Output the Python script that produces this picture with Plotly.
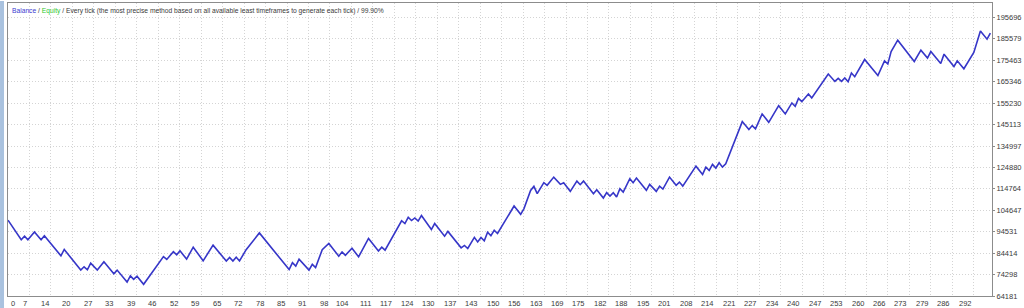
import plotly.graph_objects as go

# ---- data ----
trade_no = [
    0, 4, 5, 6, 8, 10, 11, 16, 17, 22,
    23, 24, 25, 27, 29, 32, 33, 36, 37, 38,
    39, 41, 47, 48, 50, 51, 52, 54, 56, 59,
    62, 66, 67, 68, 69, 70, 72, 76, 85, 86,
    87, 88, 91, 92, 93, 95, 97, 100, 101, 102,
    104, 106, 109, 112, 113, 114, 119, 120, 121, 122,
    123, 124, 125, 128, 129, 132, 133, 137, 138, 139,
    141, 142, 143, 144, 145, 146, 147, 148, 153, 155,
    156, 158, 159, 160, 162, 163, 165, 167, 168, 170,
    172, 173, 174, 177, 178, 180, 181, 182, 183, 184,
    185, 186, 188, 189, 190, 193, 194, 196, 197, 198,
    200, 202, 203, 204, 208, 210, 211, 212, 213, 214,
    215, 216, 217, 222, 224, 225, 226, 228, 230, 233,
    235, 237, 238, 239, 240, 242, 243, 248, 250, 251,
    252, 253, 254, 255, 256, 259, 263, 265, 266, 267,
    269, 274, 276, 278, 279, 282, 283, 286, 287, 289,
    292, 294, 296, 297,
]
balance = [
    100000, 90760, 92410, 90760, 94430, 90760, 92650, 83140, 86150, 76410,
    77970, 76560, 79710, 76410, 80320, 74670, 76410, 70770, 73680, 72040,
    73500, 69690, 82770, 81450, 85120, 83610, 85500, 81590, 87240, 80790,
    88180, 80650, 82390, 80650, 82530, 80740, 86060, 93970, 76650, 79940,
    78300, 81590, 76410, 79140, 77590, 86060, 88980, 83000, 85020, 83380,
    86770, 82670, 91330, 85450, 87240, 85820, 99700, 98390, 101350, 99800,
    101020, 99560, 102200, 95560, 98390, 92410, 94670, 86910, 88040, 86620,
    91850, 89730, 91800, 90200, 94290, 92650, 95230, 93680, 106670, 102760,
    105440, 114050, 115940, 112500, 117680, 116410, 120310, 116880, 117680, 113580,
    118430, 116740, 118430, 112500, 114380, 110430, 112970, 111370, 112970, 110900,
    114850, 113250, 119560, 117680, 119840, 114050, 116880, 113580, 116030, 114670,
    120310, 116410, 117960, 116080, 125490, 121580, 125020, 123460, 126290, 124550,
    127090, 125020, 126620, 146520, 142750, 144640, 143080, 150140, 146190, 154050,
    150140, 155320, 153720, 157480, 155930, 159550, 157670, 168960, 165480, 166890,
    165480, 167080, 165340, 169430, 167690, 175830, 168300, 175220, 173670, 179600,
    184960, 174890, 180250, 176490, 179600, 173950, 178370, 172540, 175220, 171460,
    179130, 189330, 185430, 188250,
]
x_tick_labels = [0, 7, 14, 20, 27, 33, 39, 46, 52, 59, 65, 72, 78, 85, 91, 98,
                 104, 111, 117, 124, 130, 137, 143, 150, 156, 163, 169, 175,
                 182, 188, 195, 201, 208, 214, 221, 227, 234, 240, 247, 253,
                 260, 266, 273, 279, 286, 292]
y_tick_values = [64181, 74298, 84414, 94531, 104647, 114764, 124880, 134997,
                 145113, 155230, 165346, 175463, 185579, 195696]
header_balance = "Balance"
header_equity = "Equity"
header_rest = ("Every tick (the most precise method based on all available "
               "least timeframes to generate each tick) / 99.90%")

# ---- styling ----
LINE_COLOR = "#3636c8"
GRID_COLOR = "#d4d4d4"
FRAME_COLOR = "#8c8c8c"
TEXT_COLOR = "#3a3a3a"
FONT = "Liberation Sans, Arial, sans-serif"
FS = 7.5

step = x_tick_labels[-1] / (len(x_tick_labels) - 1)
x_tick_pos = [i * step for i in range(len(x_tick_labels))]
x_max = 297.5
y_min, y_max = 64181, 202508

fig = go.Figure()
fig.add_trace(go.Scatter(
    x=trade_no, y=balance, mode="lines",
    line=dict(color=LINE_COLOR, width=1.6),
    hoverinfo="skip", showlegend=False,
))

annotations = []
for pos, lab in zip(x_tick_pos, x_tick_labels):
    annotations.append(dict(
        x=pos, y=0, xref="x", yref="paper", text=str(lab),
        showarrow=False, xanchor="left" if pos == 0 else "right",
        yanchor="top", yshift=-1, xshift=1 if pos == 0 else 0,
        font=dict(family=FONT, size=FS, color=TEXT_COLOR),
    ))
annotations.append(dict(
    x=0, y=1, xref="paper", yref="paper", xanchor="left", yanchor="top",
    xshift=2, yshift=-2, showarrow=False,
    text=(f"<span style='color:#3a3ad0'>{header_balance}</span> / "
          f"<span style='color:#2ec82e'>{header_equity}</span> / {header_rest}"),
    font=dict(family=FONT, size=6.7, color=TEXT_COLOR),
))

fig.update_layout(
    width=1024, height=308, autosize=False,
    margin=dict(l=8, r=28, t=2, b=12, pad=0),
    paper_bgcolor="white", plot_bgcolor="white",
    xaxis=dict(
        range=[0, x_max], tickvals=x_tick_pos, showticklabels=False,
        showgrid=True, gridcolor=GRID_COLOR, griddash="1px,2px", gridwidth=1,
        zeroline=False, showline=True, linecolor=FRAME_COLOR, linewidth=1,
        mirror=True, ticks="",
    ),
    yaxis=dict(
        range=[y_min, y_max], tickvals=y_tick_values,
        ticktext=[str(v) for v in y_tick_values], side="right",
        showgrid=True, gridcolor=GRID_COLOR, griddash="1px,2px", gridwidth=1,
        zeroline=False, showline=True, linecolor=FRAME_COLOR, linewidth=1,
        mirror=True, ticks="outside", ticklen=2, tickcolor=FRAME_COLOR,
        tickfont=dict(family=FONT, size=FS, color=TEXT_COLOR),
    ),
    annotations=annotations,
    shapes=[dict(
        type="rect", xref="paper", yref="paper",
        x0=-8 / 988, x1=-4 / 988, y0=-12 / 294, y1=1 + 2 / 294,
        fillcolor="#a9c2df", line=dict(width=0), layer="above",
    )],
)

fig.write_html("out.html", config={"displayModeBar": False})
